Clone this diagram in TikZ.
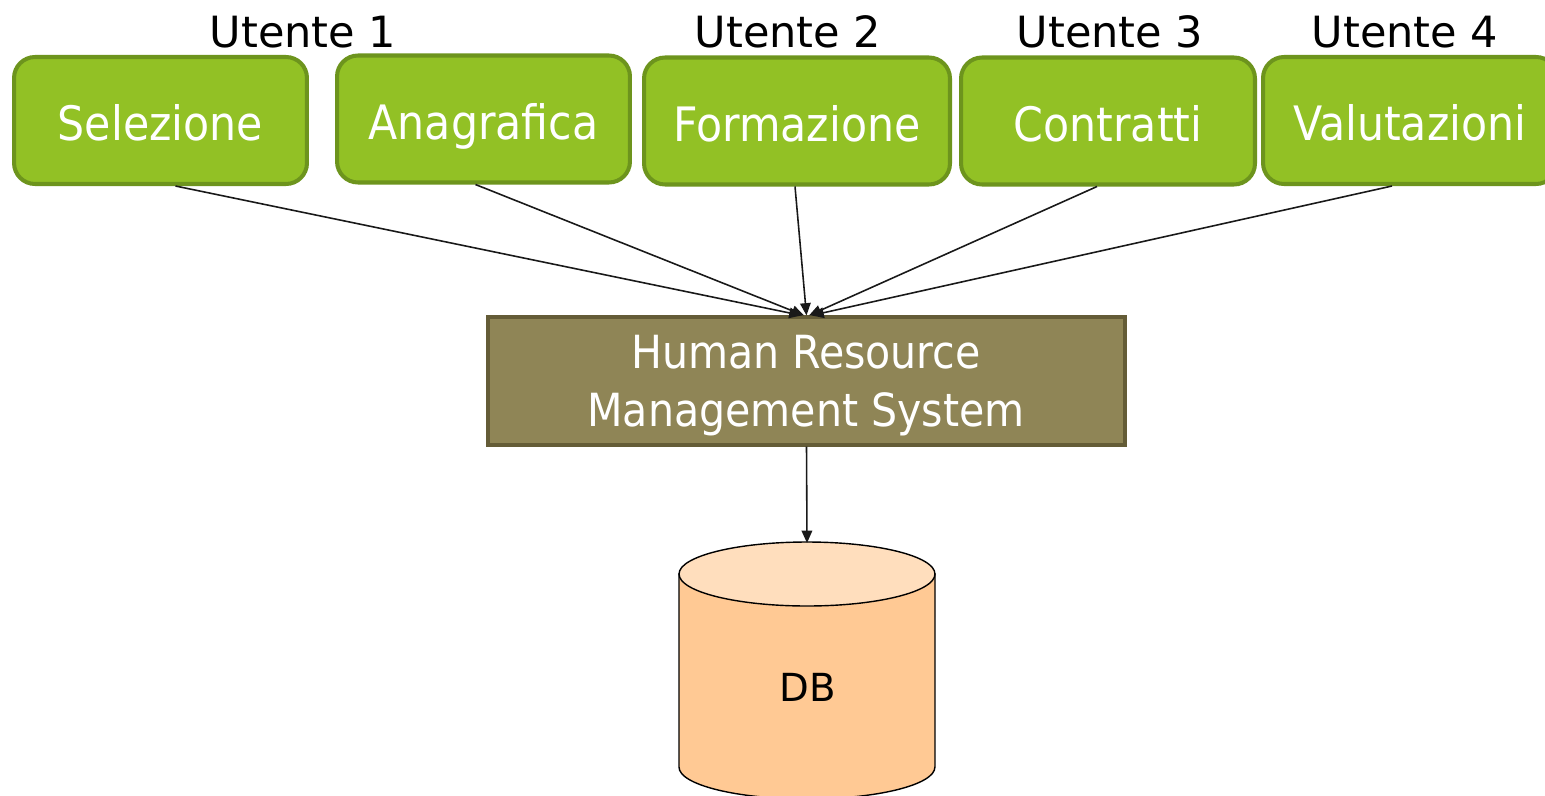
\documentclass[tikz,border=0pt]{standalone}
\usepackage{fontspec}
\setmainfont{DejaVu Sans}
\newfontfamily\boxfont{DejaVu Sans Condensed}
\usetikzlibrary{arrows.meta}
\definecolor{grfill}{RGB}{146,193,37}
\definecolor{grline}{RGB}{109,148,29}
\definecolor{olfill}{RGB}{143,133,86}
\definecolor{olline}{RGB}{100,92,55}
\definecolor{dbtopc}{RGB}{255,222,189}
\definecolor{dbbody}{RGB}{255,201,148}
\tikzset{
  modbox/.style={draw=grline, line width=2.3pt, fill=grfill, rounded corners=0.42cm,
    minimum height=2.54cm, text=white, font=\boxfont\fontsize{27}{32}\selectfont, inner sep=0pt,
    text height=26pt, text depth=3pt},
  userlbl/.style={font=\fontsize{24.5}{28}\selectfont, text=black, inner sep=0pt},
  sysbox/.style={draw=olline, line width=1.8pt, fill=olfill, minimum width=12.74cm,
    minimum height=2.56cm, inner sep=0pt},
  systext/.style={text=white, align=center, font=\boxfont\fontsize{26}{33}\selectfont, inner sep=0pt},
  conn/.style={draw=black!90, line width=0.9pt, -{Triangle[length=7pt,width=6pt]}}
}
\begin{document}
\begin{tikzpicture}[x=0.02cm,y=-0.02cm]
\clip (0,0) rectangle (1545,795);
\fill[white] (0,0) rectangle (1545,795);
% modules
\node[modbox, minimum width=5.86cm] (sel) at (160.5,120.5) {Selezione};
\node[modbox, minimum width=5.86cm] (ana) at (483.5,119) {Anagrafica};
\node[modbox, minimum width=6.12cm] (for) at (797,121) {Formazione};
\node[modbox, minimum width=5.88cm] (con) at (1108,121) {Contratti};
\node[modbox, minimum width=5.88cm] (val) at (1410,120.5) {Valutazioni};
% user labels
\node[userlbl] (u1) at (303,32) {Utente 1};
\node[userlbl] (u2) at (788,32) {Utente 2};
\node[userlbl] (u3) at (1110,32) {Utente 3};
\node[userlbl] (u4) at (1405,32) {Utente 4};
% system
\node[sysbox] (hr) at (806.5,381) {};
\node[systext] (hrtext) at (806,386) {Human Resource\\Management System};
% database cylinder
\fill[dbbody, draw=black, line width=0.8pt] (679,574) -- (679,767)
  arc[start angle=180, end angle=360, x radius=2.56cm, y radius=0.64cm] -- (935,574) -- cycle;
\fill[dbtopc, draw=black, line width=0.8pt] (807,574) ellipse[x radius=2.56cm, y radius=0.64cm];
\coordinate (dbtop) at (807,543);
\node[font=\fontsize{22}{26}\selectfont, inner sep=0pt] (db) at (808,687) {DB};
% connectors
\draw[conn] ([xshift=0.3cm]sel.south) -- ([xshift=-0.1cm]hr.north);
\draw[conn] ([xshift=-0.16cm]ana.south) -- ([xshift=-0.05cm]hr.north);
\draw[conn] ([xshift=-0.04cm]for.south) -- (hr.north);
\draw[conn] ([xshift=-0.22cm]con.south) -- ([xshift=0.05cm]hr.north);
\draw[conn] ([xshift=-0.36cm]val.south) -- ([xshift=0.1cm]hr.north);
\draw[conn] (hr.south) -- (dbtop);
\end{tikzpicture}
\end{document}
